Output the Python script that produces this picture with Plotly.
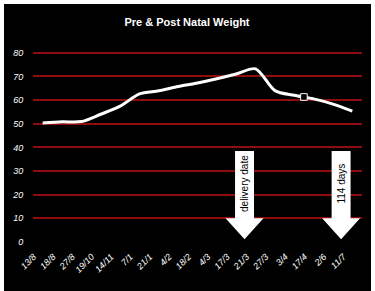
import plotly.graph_objects as go

dates = ["13/8", "18/8", "27/8", "19/10", "14/11", "7/1", "21/1", "4/2", "18/2",
         "4/3", "17/3", "21/3", "27/3", "3/4", "17/4", "2/6", "11/7"]
weights = [50.3, 50.8, 50.9, 54.0, 57.4, 62.6, 63.9, 65.7, 67.2,
           69.0, 71.0, 73.2, 64.0, 62.0, 60.5, 58.3, 55.3]
y_ticks = [0, 10, 20, 30, 40, 50, 60, 70, 80]

arrows = [
    {"x": 10.43, "text": "delivery date"},
    {"x": 15.42, "text": "114 days"},
]

W, H = 375, 291
ML, MR, MT, MB = 33, 13, 48, 49
PW, PH = W - ML - MR, H - MT - MB


def px_x(p):
    return (p - ML) / PW


def px_y(p):
    return (H - MB - p) / PH


fig = go.Figure()
fig.add_trace(go.Scatter(
    x=list(range(len(dates))), y=weights, mode="lines",
    line=dict(color="white", width=3, shape="spline", smoothing=0.8),
    hoverinfo="skip", showlegend=False,
))

shapes = [
    dict(type="rect", xref="paper", yref="paper",
         x0=px_x(4), x1=px_x(371), y0=px_y(291), y1=px_y(4),
         fillcolor="black", line=dict(width=0), layer="below"),
]
annotations = []
for a in arrows:
    cx = a["x"]
    sw, hw = 0.49, 0.98
    top, neck, tip = 38.5, 10.0, 1.2
    path = (f"M {cx - sw} {top} L {cx + sw} {top} L {cx + sw} {neck} "
            f"L {cx + hw} {neck} L {cx} {tip} L {cx - hw} {neck} "
            f"L {cx - sw} {neck} Z")
    shapes.append(dict(type="path", xref="x", yref="y", path=path,
                       fillcolor="white", line=dict(width=0), layer="above"))
    annotations.append(dict(x=cx, y=(top + neck) / 2 + 0.5, xref="x", yref="y",
                            text=a["text"], showarrow=False, textangle=-90,
                            font=dict(family="Liberation Sans, Arial", size=10,
                                      color="black")))

# small selection handle on the line
shapes.append(dict(type="rect", xref="x", yref="y",
                   x0=13.5 - 0.17, x1=13.5 + 0.17, y0=61.3 - 1.4, y1=61.3 + 1.4,
                   fillcolor="black", line=dict(color="white", width=1),
                   layer="above"))

fig.update_layout(
    width=W, height=H,
    margin=dict(l=ML, r=MR, t=MT, b=MB, pad=0),
    paper_bgcolor="white", plot_bgcolor="black",
    title=dict(text="<b>Pre & Post Natal Weight</b>", x=187 / W, xref="container",
               xanchor="center", y=1 - 22 / H, yref="container", yanchor="middle",
               font=dict(family="Liberation Sans, Arial", size=11, color="white")),
    shapes=shapes, annotations=annotations,
    showlegend=False,
)
fig.update_xaxes(
    type="linear", range=[-0.5, len(dates) - 0.5],
    tickmode="array", tickvals=list(range(len(dates))), ticktext=dates,
    tickangle=-45, showgrid=False, zeroline=False, showline=False,
    ticks="outside", ticklen=5, tickcolor="black", ticklabelshift=-9,
    tickfont=dict(family="Liberation Sans, Arial", size=9, color="white",
                  style="italic"),
)
fig.update_yaxes(
    range=[0, 82], tickvals=y_ticks,
    showgrid=True, gridcolor="#8e0d0d", gridwidth=2,
    zeroline=True, zerolinecolor="black", showline=False,
    ticks="outside", ticklen=7, tickcolor="black",
    tickfont=dict(family="Liberation Sans, Arial", size=9, color="white",
                  style="italic"),
)

fig.write_html("out.html")
